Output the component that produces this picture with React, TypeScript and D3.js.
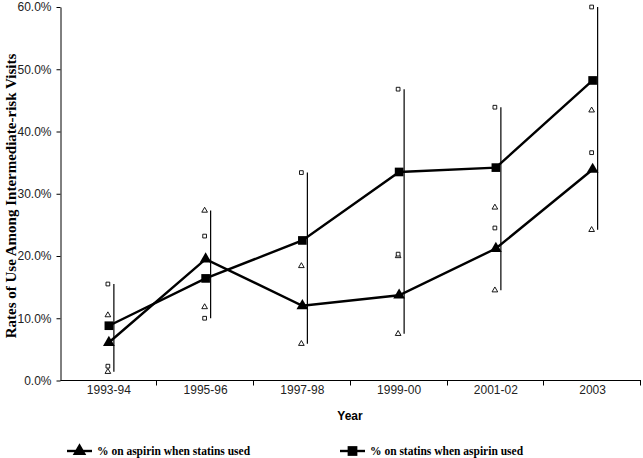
import React, { useEffect, useRef } from 'react';
import * as d3 from 'd3';

const W = 643, H = 458;

const years = ['1993-94', '1995-96', '1997-98', '1999-00', '2001-02', '2003'];
// % on aspirin when statins used
const aspirin = [6.1, 19.5, 12.0, 13.7, 21.2, 33.9];
const aspirinHigh = [10.5, 27.3, 18.4, 20.0, 27.8, 43.4];
const aspirinLow = [1.4, 11.8, 5.9, 7.5, 14.5, 24.2];
// % on statins when aspirin used
const statins = [8.8, 16.4, 22.5, 33.5, 34.2, 48.2];
const statinsHigh = [15.5, 23.2, 33.4, 46.8, 43.9, 60.0];
const statinsLow = [2.3, 10.0, 12.0, 20.3, 24.5, 36.6];
const yTicks = [0, 10, 20, 30, 40, 50, 60];

const sans = '"Liberation Sans", Arial, sans-serif';
const serif = '"Liberation Serif", "Times New Roman", serif';

function App() {
  const ref = useRef<SVGSVGElement | null>(null);

  useEffect(() => {
    const svg = d3.select(ref.current);
    svg.selectAll('*').remove();

    const x = d3.scaleBand<string>().domain(years).range([60.5, 641]).padding(0);
    const y = d3.scaleLinear().domain([0, 60]).range([380.5, 7]);
    const cx = (i: number) => (x(years[i]) as number) + x.bandwidth() / 2;

    // y axis
    const yAxis = svg.append('g')
      .attr('transform', 'translate(60.5,0)')
      .call(d3.axisLeft(y).tickValues(yTicks).tickSize(4).tickSizeOuter(0)
        .tickFormat(d => (d as number).toFixed(1) + '%'));
    yAxis.selectAll('path,line').attr('stroke', '#000');
    yAxis.selectAll('text').attr('font-family', sans).attr('font-size', 12).attr('fill', '#222').attr('dx', '-2');

    // x axis: ticks at band edges, labels at centres
    const xg = svg.append('g');
    xg.append('line').attr('x1', 60.5).attr('x2', 641).attr('y1', 380.5).attr('y2', 380.5).attr('stroke', '#000');
    const edges = years.map(d => x(d) as number).concat([641]);
    xg.selectAll('line.tk').data(edges.slice(1)).enter().append('line')
      .attr('class', 'tk')
      .attr('x1', d => Math.round(d) - 0.5).attr('x2', d => Math.round(d) - 0.5)
      .attr('y1', 380.5).attr('y2', 385.5).attr('stroke', '#000');
    xg.selectAll('text').data(years).enter().append('text')
      .attr('x', (d, i) => cx(i)).attr('y', 394)
      .attr('text-anchor', 'middle').attr('font-family', sans).attr('font-size', 12).attr('fill', '#222')
      .text(d => d);

    svg.append('text').attr('x', 350).attr('y', 420).attr('text-anchor', 'middle')
      .attr('font-family', sans).attr('font-weight', 'bold').attr('font-size', 12).text('Year');

    svg.append('text').attr('transform', 'translate(16,196) rotate(-90)').attr('text-anchor', 'middle')
      .attr('font-family', serif).attr('font-weight', 'bold').attr('font-size', 15)
      .text('Rates of Use Among Intermediate-risk Visits');

    // high-low lines
    const hi = years.map((_, i) => Math.max(aspirinHigh[i], statinsHigh[i]));
    const lo = years.map((_, i) => Math.min(aspirinLow[i], statinsLow[i]));
    svg.append('g').selectAll('line').data(years).enter().append('line')
      .attr('x1', (d, i) => cx(i) + 5).attr('x2', (d, i) => cx(i) + 5)
      .attr('y1', (d, i) => y(hi[i])).attr('y2', (d, i) => y(lo[i]))
      .attr('stroke', '#000').attr('stroke-width', 1.2);

    const tri = d3.symbol().type(d3.symbolTriangle);
    const sq = d3.symbol().type(d3.symbolSquare);

    // hollow CI markers
    const hollow = (vals: number[], type: 'tri' | 'sq') => {
      svg.append('g').selectAll('path').data(vals).enter().append('path')
        .attr('transform', (d, i) => `translate(${cx(i) - 1},${y(d)})`)
        .attr('d', type === 'tri' ? tri.size(14)() : sq.size(14)())
        .attr('fill', '#fff').attr('stroke', '#000').attr('stroke-width', 0.9);
    };
    hollow(aspirinHigh, 'tri');
    hollow(aspirinLow, 'tri');
    hollow(statinsHigh, 'sq');
    hollow(statinsLow, 'sq');

    const line = d3.line<number>().x((d, i) => cx(i)).y(d => y(d));
    const series = (vals: number[], type: 'tri' | 'sq') => {
      svg.append('path').datum(vals).attr('d', line)
        .attr('fill', 'none').attr('stroke', '#000').attr('stroke-width', 2.4);
      svg.append('g').selectAll('path').data(vals).enter().append('path')
        .attr('transform', (d, i) => `translate(${cx(i)},${y(d)})`)
        .attr('d', type === 'tri' ? tri.size(60)() : sq.size(75)())
        .attr('fill', '#000');
    };
    series(aspirin, 'tri');
    series(statins, 'sq');

    // legend
    const lg = [
      { label: '% on aspirin when statins used', x: 67, type: 'tri' },
      { label: '% on statins when aspirin used', x: 340, type: 'sq' },
    ];
    lg.forEach(l => {
      const g = svg.append('g').attr('transform', `translate(${l.x},451)`);
      g.append('line').attr('x1', 0).attr('x2', 25).attr('stroke', '#000').attr('stroke-width', 2.4);
      g.append('path').attr('transform', 'translate(12.5,0)')
        .attr('d', l.type === 'tri' ? tri.size(80)() : sq.size(95)()).attr('fill', '#000');
      g.append('text').attr('x', 30).attr('y', 4).attr('font-family', serif).attr('font-weight', 'bold')
        .attr('font-size', 11.5).text(l.label);
    });
  }, []);

  return (
    <svg ref={ref} width={W} height={H} style={{ position: 'absolute', left: 0, top: 0, background: '#fff' }} />
  );
}

export default App;
